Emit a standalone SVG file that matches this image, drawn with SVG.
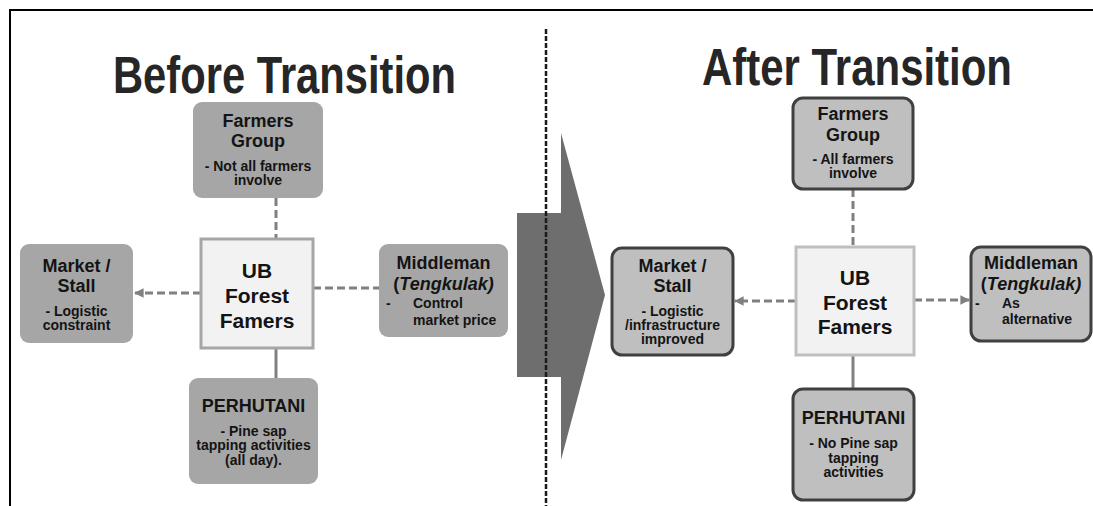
<svg xmlns="http://www.w3.org/2000/svg" width="1093" height="506" viewBox="0 0 1093 506">
<style>
text{font-family:"Liberation Sans",Arial,sans-serif;font-weight:bold;fill:#141414;text-anchor:middle}
.title{font-size:51px;fill:#262626}
.h{font-size:18px}
.d{font-size:14px}
.ub{font-size:21px}
.st{text-anchor:start}
.nb{fill:#a6a6a6;stroke:none}
.na{fill:#bfbfbf;stroke:#404040;stroke-width:3}
.ubb{fill:#f2f2f2;stroke:#a6a6a6;stroke-width:3}
.uba{fill:#f2f2f2;stroke:#bfbfbf;stroke-width:3}
.dash{stroke:#808080;stroke-width:3;stroke-dasharray:8 4;fill:none}
.solid{stroke:#808080;stroke-width:3;fill:none}
</style>
<defs>
<marker id="ah" viewBox="0 0 10 10" refX="9" refY="5" markerWidth="3.2" markerHeight="3.2" orient="auto" markerUnits="strokeWidth">
<path d="M0,0 L10,5 L0,10 z" fill="#808080"/>
</marker>
</defs>
<rect width="1093" height="506" fill="#ffffff"/>
<g id="frame">
<line x1="9" y1="10" x2="1093" y2="10" stroke="#000" stroke-width="2"/>
<line x1="10" y1="9" x2="10" y2="506" stroke="#000" stroke-width="2"/>
</g>
<g id="titles">
<text class="title" x="284.5" y="92.5" textLength="343" lengthAdjust="spacingAndGlyphs">Before Transition</text>
<text class="title" x="857" y="85" textLength="310" lengthAdjust="spacingAndGlyphs">After Transition</text>
</g>
<g id="transition-arrow">
<polygon points="517,213 561,213 561,133 605,295 561,460 561,377 517,377" fill="#6e6e6e"/>
</g>
<g id="divider">
<line x1="546" y1="29" x2="546" y2="506" stroke="#1a1a1a" stroke-width="2.5" stroke-dasharray="5 2"/>
</g>
<g id="connectors">
<line class="dash" x1="276" y1="198" x2="276" y2="239"/>
<line class="solid" x1="276" y1="348" x2="276" y2="378"/>
<line class="dash" x1="201" y1="293" x2="135" y2="293" marker-end="url(#ah)"/>
<line class="dash" x1="313" y1="288" x2="379" y2="288"/>
<line class="dash" x1="853" y1="189" x2="853" y2="247"/>
<line class="solid" x1="853" y1="355" x2="853" y2="389"/>
<line class="dash" x1="796" y1="301" x2="735" y2="301" marker-end="url(#ah)"/>
<line class="dash" x1="914" y1="300" x2="969" y2="300" marker-end="url(#ah)"/>
</g>
<g id="before-farmers-group">
<rect class="nb" x="193" y="102" width="130" height="96" rx="9"/>
<text class="h" x="258" y="126.5">Farmers</text>
<text class="h" x="258" y="146.5">Group</text>
<text class="d" x="258" y="171">- Not all farmers</text>
<text class="d" x="258" y="185">involve</text>
</g>
<g id="before-market-stall">
<rect class="nb" x="20" y="244" width="113" height="99" rx="9"/>
<text class="h" x="76.5" y="271.5">Market /</text>
<text class="h" x="76.5" y="291.5">Stall</text>
<text class="d" x="76.5" y="316">- Logistic</text>
<text class="d" x="76.5" y="330">constraint</text>
</g>
<g id="before-ub-forest-famers">
<rect class="ubb" x="201" y="239" width="112" height="109"/>
<text class="ub" x="257" y="277.5">UB</text>
<text class="ub" x="257" y="302.5">Forest</text>
<text class="ub" x="257" y="327.5">Famers</text>
</g>
<g id="before-middleman">
<rect class="nb" x="379" y="244" width="129" height="93" rx="9"/>
<text class="h" x="443.5" y="268.5">Middleman</text>
<text class="h" x="443.5" y="289.5">(<tspan font-style="italic">Tengkulak)</tspan></text>
<text class="d st" x="386" y="308">-</text>
<text class="d st" x="413" y="308">Control</text>
<text class="d st" x="413" y="325">market price</text>
</g>
<g id="before-perhutani">
<rect class="nb" x="189" y="378" width="129" height="106" rx="9"/>
<text class="h" x="253.5" y="411.5">PERHUTANI</text>
<text class="d" x="253.5" y="436">- Pine sap</text>
<text class="d" x="253.5" y="450">tapping activities</text>
<text class="d" x="253.5" y="465">(all  day).</text>
</g>
<g id="after-farmers-group">
<rect class="na" x="793" y="98" width="120" height="91" rx="10"/>
<text class="h" x="853" y="119.5">Farmers</text>
<text class="h" x="853" y="140.5">Group</text>
<text class="d" x="853" y="164">- All farmers</text>
<text class="d" x="853" y="178">involve</text>
</g>
<g id="after-market-stall">
<rect class="na" x="612" y="248" width="121" height="107" rx="10"/>
<text class="h" x="672.5" y="271.5">Market /</text>
<text class="h" x="672.5" y="291.5">Stall</text>
<text class="d" x="672.5" y="316">- Logistic</text>
<text class="d" x="672.5" y="330">/infrastructure</text>
<text class="d" x="672.5" y="344">improved</text>
</g>
<g id="after-ub-forest-famers">
<rect class="uba" x="796" y="247" width="118" height="108"/>
<text class="ub" x="855" y="284.5">UB</text>
<text class="ub" x="855" y="309.5">Forest</text>
<text class="ub" x="855" y="333.5">Famers</text>
</g>
<g id="after-middleman">
<rect class="na" x="971" y="247" width="120" height="94" rx="10"/>
<text class="h" x="1031" y="268.5">Middleman</text>
<text class="h" x="1031" y="289.5">(<tspan font-style="italic">Tengkulak)</tspan></text>
<text class="d st" x="975" y="308">-</text>
<text class="d st" x="1002" y="308">As</text>
<text class="d st" x="1002" y="324">alternative</text>
</g>
<g id="after-perhutani">
<rect class="na" x="793" y="389" width="121" height="111" rx="10"/>
<text class="h" x="853.5" y="423.5">PERHUTANI</text>
<text class="d" x="853.5" y="448">- No Pine sap</text>
<text class="d" x="853.5" y="463">tapping</text>
<text class="d" x="853.5" y="477">activities</text>
</g>
</svg>
